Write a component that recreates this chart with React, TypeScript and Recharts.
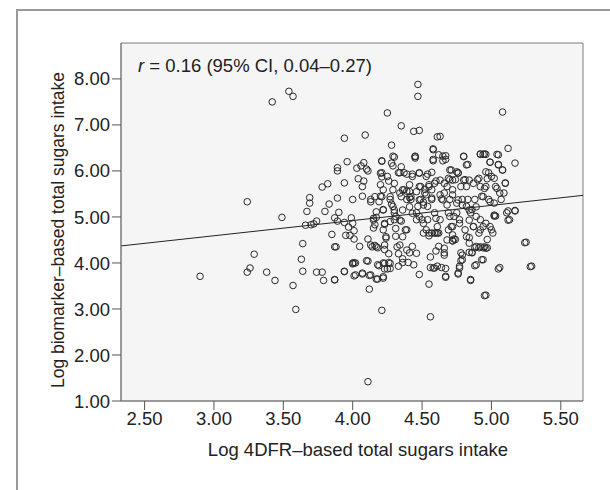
import { ScatterChart, Scatter, XAxis, YAxis, ReferenceArea, ReferenceLine } from "recharts";

// log 4DFR-based intake (x) and log biomarker-based intake (y)
const logFdr = [
  2.9, 3.24, 3.24, 3.26, 3.29, 3.38, 3.42, 3.44, 3.49, 3.54, 3.57, 3.57, 3.59, 3.64, 3.63, 3.64,
  3.67, 3.69, 3.69, 3.66, 3.7, 3.72, 3.74, 3.74, 3.78, 3.78, 3.79, 3.8, 3.82, 3.83, 3.85, 3.87,
  3.87, 3.88, 3.87, 3.89, 3.89, 3.89, 3.9, 3.89, 3.94, 3.94, 3.94, 3.94, 3.96, 3.95, 3.98, 3.97,
  3.99, 4.0, 4.0, 4.01, 4.01, 4.01, 4.02, 4.0, 4.03, 4.04, 4.05, 4.06, 4.07, 4.07, 4.07, 4.08,
  4.08, 4.09, 4.1, 4.11, 4.11, 4.11, 4.11, 4.12, 4.13, 4.14, 4.13, 4.15, 4.15, 4.16, 4.17, 4.18,
  4.18, 4.19, 4.2, 4.2, 4.21, 4.21, 4.21, 4.21, 4.22, 4.22, 4.22, 4.23, 4.23, 4.24, 4.25, 4.25,
  4.26, 4.26, 4.26, 4.27, 4.28, 4.28, 4.29, 4.29, 4.3, 4.3, 4.31, 4.31, 4.32, 4.33, 4.33, 4.34,
  4.34, 4.35, 4.35, 4.36, 4.36, 4.37, 4.37, 4.38, 4.39, 4.39, 4.4, 4.41, 4.41, 4.42, 4.43, 4.43,
  4.44, 4.44, 4.45, 4.45, 4.46, 4.46, 4.47, 4.47, 4.47, 4.48, 4.48, 4.48, 4.49, 4.49, 4.5, 4.51,
  4.51, 4.52, 4.53, 4.54, 4.54, 4.55, 4.55, 4.55, 4.56, 4.56, 4.56, 4.57, 4.57, 4.58, 4.58, 4.59,
  4.6, 4.6, 4.61, 4.61, 4.62, 4.62, 4.63, 4.63, 4.64, 4.64, 4.65, 4.66, 4.66, 4.67, 4.67, 4.68,
  4.69, 4.69, 4.7, 4.7, 4.71, 4.71, 4.72, 4.72, 4.73, 4.74, 4.74, 4.75, 4.75, 4.76, 4.76, 4.77,
  4.77, 4.78, 4.78, 4.79, 4.79, 4.8, 4.81, 4.81, 4.82, 4.82, 4.83, 4.83, 4.84, 4.85, 4.85, 4.86,
  4.86, 4.87, 4.88, 4.88, 4.89, 4.89, 4.9, 4.91, 4.92, 4.92, 4.92, 4.93, 4.94, 4.94, 4.94, 4.95,
  4.96, 4.96, 4.96, 4.97, 4.98, 4.98, 4.99, 4.99, 5.0, 5.01, 5.02, 5.03, 5.03, 5.04, 5.05, 5.06,
  5.06, 5.07, 5.08, 5.08, 5.09, 5.1, 5.12, 5.12, 5.13, 5.17, 5.17, 5.25, 5.29,
  3.87, 3.94, 4.01, 4.07, 4.12, 4.17, 4.22, 4.0, 4.02, 4.1, 4.18, 4.23, 4.27, 4.23, 4.27,
  5.24, 5.28, 5.05, 4.95, 4.85, 4.76, 4.67, 4.89, 4.93, 4.77, 4.78, 4.79, 4.84, 4.86, 4.88,
  4.91, 4.94, 4.97, 4.6, 4.66, 4.66, 4.59, 4.58, 4.67, 4.72, 4.73, 4.55, 4.57, 4.59, 4.61,
  5.12, 5.11, 5.17, 5.02,
  // dense centre
  4.21, 4.3, 4.29, 4.35, 4.2, 4.25, 4.33, 4.39, 4.43, 4.48, 4.54, 4.45, 4.58, 4.62, 4.67, 4.58,
  4.65, 4.8, 4.82, 4.92, 4.95, 5.05, 4.99, 5.05, 5.08, 4.96, 4.91, 4.97, 5.02, 5.1, 5.04, 4.95,
  4.87, 4.8, 4.84, 4.76, 4.7, 4.75, 4.69, 4.72, 4.63, 4.66, 4.59, 4.55, 4.52, 4.48, 4.46, 4.41,
  4.41, 4.42, 4.36, 4.35, 4.3, 4.29, 4.22, 4.21, 4.19, 4.16, 4.13, 4.27, 4.28, 4.22, 4.17, 4.15,
  4.16, 4.23, 4.27, 4.3, 4.31, 4.34, 4.36, 4.41, 4.43, 4.48, 4.51, 4.53, 4.57, 4.57, 4.63, 4.65,
  4.68, 4.72, 4.76, 4.79, 4.84, 4.89, 4.94, 4.99, 5.02, 4.48, 4.51, 4.53, 4.6, 4.61, 4.7, 4.72,
  4.77, 4.84, 4.87, 4.92, 4.96, 5.0, 4.82, 4.84, 4.68, 4.72, 4.36, 4.39, 4.34, 4.22, 4.24, 4.23,
  4.13, 4.17, 4.39, 4.46, 4.92, 4.96,
];

const logBiomarker = [
  3.71, 5.33, 3.8, 3.89, 4.19, 3.8, 7.5, 3.62, 4.99, 7.73, 7.62, 3.51, 2.99, 4.42, 4.08, 3.82,
  5.12, 5.42, 5.3, 4.82, 4.83, 4.85, 4.91, 3.8, 5.65, 3.8, 3.62, 5.12, 5.72, 5.28, 4.62, 4.98,
  4.35, 4.35, 3.64, 5.41, 6.07, 6.0, 5.1, 4.91, 6.71, 5.74, 4.88, 3.82, 6.2, 4.6, 4.6, 4.78,
  4.98, 5.38, 4.86, 4.7, 4.52, 4.0, 3.74, 3.98, 6.06, 5.83, 4.36, 6.11, 5.66, 3.78, 5.45, 5.78,
  6.18, 6.78, 6.04, 4.04, 1.42, 4.52, 6.0, 3.43, 3.74, 4.35, 5.38, 4.93, 4.76, 4.38, 4.99, 3.65,
  4.33, 3.94, 5.7, 5.45, 2.97, 6.21, 5.96, 5.87, 5.16, 3.7, 4.0, 4.29, 4.84, 4.54, 3.87, 7.26,
  5.78, 4.01, 4.2, 5.38, 6.17, 6.56, 6.32, 5.23, 5.09, 4.94, 4.75, 4.58, 4.35, 4.2, 3.93, 5.52,
  5.96, 6.98, 4.91, 4.09, 4.01, 5.59, 5.96, 4.72, 5.38, 5.56, 4.01, 4.22, 5.42, 5.38, 4.36, 5.88,
  3.96, 6.86, 6.32, 6.28, 5.09, 4.94, 5.23, 7.88, 7.62, 5.96, 6.88, 3.75, 5.66, 5.38, 4.94, 4.65,
  5.32, 5.52, 5.88, 5.23, 4.94, 5.66, 4.59, 3.54, 2.83, 4.13, 3.9, 5.38, 5.97, 6.48, 6.25, 5.09,
  4.65, 5.78, 3.93, 6.74, 4.65, 4.36, 6.75, 4.94, 5.39, 3.9, 6.32, 5.52, 4.22, 6.25, 3.71, 5.66,
  5.09, 4.72, 5.81, 5.38, 6.02, 4.79, 4.48, 5.59, 5.01, 4.51, 5.81, 5.3, 5.09, 5.96, 3.78, 4.94,
  3.93, 5.66, 4.22, 5.38, 4.07, 6.32, 5.81, 4.72, 5.23, 5.66, 6.14, 5.38, 4.55, 5.09, 3.64, 4.22,
  5.16, 4.79, 5.38, 3.94, 5.01, 4.36, 5.81, 4.65, 6.36, 4.94, 5.66, 5.45, 4.07, 4.79, 6.36, 4.35,
  3.3, 6.36, 5.66, 4.51, 5.38, 5.96, 4.79, 6.19, 5.88, 4.65, 5.3, 5.66, 5.02, 6.36, 6.14, 3.9,
  5.52, 5.38, 7.28, 6.02, 5.52, 5.74, 5.13, 6.49, 4.94, 6.17, 5.14, 4.45, 3.93,
  3.63, 3.81, 3.72, 3.76, 3.73, 3.65, 3.67, 4.0, 4.0, 4.05, 3.96, 3.99, 3.88, 3.87, 3.99,
  4.44, 3.92, 3.87, 3.29, 3.62, 3.76, 3.69, 3.96, 4.07, 3.89, 4.05, 4.17, 4.23, 4.23, 4.33,
  4.33, 4.33, 4.33, 4.26, 4.32, 4.17, 3.89, 3.89, 3.88, 4.48, 4.52, 4.65, 4.65, 4.65, 4.65,
  4.93, 5.09, 5.13, 5.02,
  // dense centre
  6.22, 6.3, 6.11, 6.09, 5.95, 5.88, 5.96, 5.93, 5.93, 5.95, 5.93, 6.31, 6.46, 6.35, 6.33, 6.22,
  6.22, 6.31, 6.13, 6.37, 6.37, 6.35, 6.19, 6.13, 6.02, 5.98, 5.84, 5.83, 5.84, 5.73, 5.62, 5.62,
  5.73, 5.8, 5.8, 5.95, 6.02, 5.98, 5.84, 5.8, 5.8, 5.73, 5.73, 5.7, 5.6, 5.66, 5.55, 5.7,
  5.55, 5.44, 5.59, 5.44, 5.73, 5.59, 5.59, 5.44, 5.33, 5.44, 5.33, 5.44, 5.28, 5.15, 5.11, 4.97,
  4.83, 4.86, 4.9, 5.15, 5.01, 4.93, 5.15, 5.22, 5.08, 5.37, 5.26, 5.48, 5.59, 5.41, 5.48, 5.37,
  5.26, 5.48, 5.37, 5.26, 5.15, 5.22, 5.44, 5.33, 5.04, 5.01, 4.86, 4.72, 4.97, 4.79, 5.01, 4.79,
  4.86, 4.93, 4.79, 4.72, 4.86, 4.72, 4.57, 4.43, 4.5, 4.61, 4.57, 4.72, 4.39, 4.72, 4.57, 4.39,
  4.39, 4.35, 4.28, 4.21, 4.35, 4.32,
];

const xTicks = [2.5, 3.0, 3.5, 4.0, 4.5, 5.0, 5.5];
const yTicks = [1, 2, 3, 4, 5, 6, 7, 8];
const X_DOMAIN = [2.33, 5.66];
const Y_DOMAIN = [1, 8.78];

// fit line
const fitIntercept = 4.37;
const fitSlope = 0.33;

const points = logFdr.map((x, i) => ({ x, y: logBiomarker[i] }));

const fitAt = (x: number) => fitIntercept + fitSlope * (x - X_DOMAIN[0]);

const FONT = "'Liberation Sans', Arial, sans-serif";
const tickStyle = { fill: "#222", fontSize: 18.5, fontFamily: FONT };

const OpenCircle = (props: any) => {
  const { cx, cy } = props;
  if (cx == null || cy == null) return null;
  return <circle cx={cx} cy={cy} r={3.3} fill="none" stroke="#2a2a2a" strokeWidth={1} />;
};

export default function App() {
  return (
    <div style={{ position: "fixed", left: 0, top: 0, width: 610, height: 490, background: "#fff", overflow: "hidden" }}>
      <div
        style={{
          position: "absolute",
          left: 16,
          top: 9,
          width: 600,
          height: 490,
          borderLeft: "2px solid #9a9a9a",
          borderTop: "2px solid #9a9a9a",
        }}
      />
      <div style={{ position: "absolute", left: 0, top: 0 }}>
        <ScatterChart width={610} height={490} margin={{ top: 43, right: 27, bottom: 59, left: 61 }}>
          <ReferenceArea
            x1={X_DOMAIN[0]}
            x2={X_DOMAIN[1]}
            y1={Y_DOMAIN[0]}
            y2={Y_DOMAIN[1]}
            fill="#f5f5f5"
            fillOpacity={1}
            stroke="#7a7a7a"
            strokeWidth={1}
            ifOverflow="visible"
          />
          <XAxis
            type="number"
            dataKey="x"
            domain={X_DOMAIN}
            ticks={xTicks}
            allowDataOverflow
            tickFormatter={(v: number) => v.toFixed(2)}
            tick={tickStyle}
            tickSize={9}
            tickMargin={2}
            height={30}
            stroke="#7a7a7a"
            tickLine={{ stroke: "#555" }}
          />
          <YAxis
            type="number"
            dataKey="y"
            domain={Y_DOMAIN}
            ticks={yTicks}
            allowDataOverflow
            tickFormatter={(v: number) => v.toFixed(2)}
            tick={tickStyle}
            tickSize={9}
            tickMargin={2}
            width={60}
            stroke="#7a7a7a"
            tickLine={{ stroke: "#555" }}
          />
          <ReferenceLine
            segment={[
              { x: X_DOMAIN[0], y: fitAt(X_DOMAIN[0]) },
              { x: X_DOMAIN[1], y: fitAt(X_DOMAIN[1]) },
            ]}
            stroke="#222"
            strokeWidth={1}
          />
          <Scatter data={points} shape={OpenCircle} isAnimationActive={false} />
        </ScatterChart>
      </div>
      <div
        style={{
          position: "absolute",
          left: 138,
          top: 55,
          fontFamily: FONT,
          fontSize: 18.5,
          color: "#222",
          whiteSpace: "nowrap",
        }}
      >
        <i>r</i> = 0.16 (95% CI, 0.04–0.27)
      </div>
      <div
        style={{
          position: "absolute",
          left: 358,
          top: 450,
          transform: "translate(-50%, -50%)",
          fontFamily: FONT,
          fontSize: 18.5,
          color: "#222",
          whiteSpace: "nowrap",
        }}
      >
        Log 4DFR–based total sugars intake
      </div>
      <div
        style={{
          position: "absolute",
          left: 58,
          top: 230,
          transform: "translate(-50%, -50%) rotate(-90deg)",
          fontFamily: FONT,
          fontSize: 17.5,
          color: "#222",
          whiteSpace: "nowrap",
        }}
      >
        Log biomarker–based total sugars intake
      </div>
    </div>
  );
}
